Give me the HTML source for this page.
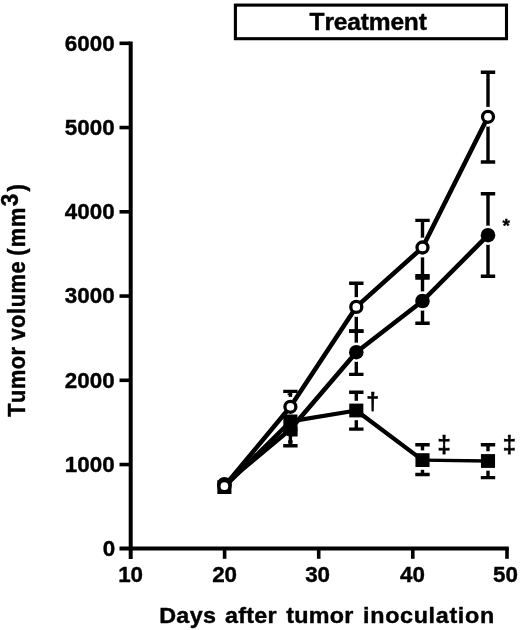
<!DOCTYPE html>
<html lang="en"><head><meta charset="utf-8"><title>Tumor volume</title>
<style>html,body{margin:0;padding:0;background:#fff}body{width:520px;height:630px;overflow:hidden}svg{display:block;filter:blur(0.35px)}text{font-family:"Liberation Sans",Arial,Helvetica,sans-serif;font-weight:bold;fill:#000;stroke:#000;stroke-width:0.4px;stroke-linejoin:round;font-kerning:none}</style>
</head><body>
<svg width="520" height="630" viewBox="0 0 520 630">
<rect width="520" height="630" fill="#fff"/>
<rect x="235.4" y="5.1" width="271.1" height="33.6" fill="#fff" stroke="#000" stroke-width="3.1"/>
<text transform="translate(309.57 29.7) scale(1.045 1)" font-size="23.5" letter-spacing="-0.16">Treatment</text>
<g stroke="#000" stroke-width="4" fill="none">
<path d="M130.7 41.5V559"/>
<path d="M119.5 548.5H508.8"/>
</g>
<g stroke="#000" stroke-width="3.6" fill="none">
<path d="M119.5 464.55H130"/>
<path d="M119.5 380.3H130"/>
<path d="M119.5 296.05H130"/>
<path d="M119.5 211.8H130"/>
<path d="M119.5 127.55H130"/>
<path d="M119.5 43.3H130"/>
<path d="M224.6 548V558.8"/>
<path d="M318.7 548V558.8"/>
<path d="M412.8 548V558.8"/>
<path d="M507 548V558.8"/>
</g>
<g font-size="22.4" text-anchor="end">
<text x="115.3" y="556.2">0</text>
<text x="114.6" y="471.9">1000</text>
<text x="114.6" y="387.7">2000</text>
<text x="114.6" y="303.4">3000</text>
<text x="114.6" y="219.2">4000</text>
<text x="114.6" y="134.9">5000</text>
<text x="114.6" y="50.7">6000</text>
</g>
<g font-size="22.4" text-anchor="middle">
<text x="130.6" y="581.8">10</text>
<text x="224.6" y="581.8">20</text>
<text x="317.6" y="581.8">30</text>
<text x="412.4" y="581.8">40</text>
<text x="505.5" y="581.8">50</text>
</g>
<text transform="scale(1.07 1)" y="622.7" font-size="21.8"><tspan x="148.73" letter-spacing="0.328">Days</tspan> <tspan x="210.3" letter-spacing="0.228">after</tspan> <tspan x="267.49" letter-spacing="0.247">tumor</tspan> <tspan x="339.32" letter-spacing="0.63">inoculation</tspan></text>
<text transform="translate(24.8 416.8) rotate(-90) scale(1 1.07)" font-size="21.8"><tspan x="0.06" y="0" letter-spacing="0.515">Tumor</tspan> <tspan x="76.21" y="0" letter-spacing="0.582">volume</tspan> <tspan x="161" y="0">(</tspan><tspan x="169.5" y="0" letter-spacing="0.9">mm</tspan><tspan x="210.5" y="-6" font-size="22.6">3</tspan><tspan x="225.4" y="0">)</tspan></text>
<g stroke="#000" stroke-width="3.4" fill="none">
<path d="M290.4 391.4V406M283.2 391.4H297.6M283.2 406H297.6"/>
<path d="M287.6 394.3H292.3" stroke-width="1.6"/>
<path d="M356.3 283.3V331M349.1 283.3H363.5M349.1 331H363.5"/>
<path d="M422.5 220.4V275.6M415.3 220.4H429.7M415.3 275.6H429.7"/>
<path d="M488.0 72.3V162M480.8 72.3H495.2M480.8 162H495.2"/>
<path d="M356.3 331.3V374.4M349.1 331.3H363.5M349.1 374.4H363.5"/>
<path d="M422.5 278V323.3M415.3 278H429.7M415.3 323.3H429.7"/>
<path d="M488.0 193.8V276.3M480.8 193.8H495.2M480.8 276.3H495.2"/>
<path d="M290.4 432V445.8M283.2 432H297.6M283.2 445.8H297.6"/>
<path d="M288.2 441.9H292.6"/>
<path d="M356.3 392.2V429.1M349.1 392.2H363.5M349.1 429.1H363.5"/>
<path d="M422.5 444.8V474.5M415.3 444.8H429.7M415.3 474.5H429.7"/>
<path d="M488.0 444.7V477.6M480.8 444.7H495.2M480.8 477.6H495.2"/>
</g>
<circle cx="356.3" cy="352.2" r="9.8" fill="#fff"/>
<circle cx="422.5" cy="301.0" r="9.8" fill="#fff"/>
<circle cx="488.0" cy="235.2" r="9.8" fill="#fff"/>
<circle cx="290.4" cy="406.8" r="10" fill="#fff"/>
<circle cx="356.3" cy="306.9" r="10" fill="#fff"/>
<circle cx="422.5" cy="247.5" r="10" fill="#fff"/>
<circle cx="488.0" cy="116.8" r="10" fill="#fff"/>
<rect x="348.3" y="400.8" width="16" height="19.4" fill="#fff"/>
<rect x="414.5" y="450.4" width="16" height="19.4" fill="#fff"/>
<rect x="480.0" y="451.3" width="16" height="19.4" fill="#fff"/>
<path d="M290 434.9H297.6" stroke="#000" stroke-width="3.2" fill="none"/>
<g stroke="#000" stroke-width="4.6" fill="none" stroke-linejoin="round">
<polyline points="224.4,487.1 290.4,421.4 356.3,410.5 422.5,460.1" stroke-width="4.3"/>
<polyline points="422.5,460.1 488.0,461.0" stroke-width="3.3"/>
<polyline points="224.4,484.2 290.4,429.3 356.3,352.2 422.5,301.0 488.0,235.2"/>
<polyline points="224.4,486.2 290.4,406.8 356.3,306.9 422.5,247.5 488.0,116.8"/>
</g>
<rect x="217.35" y="480.2" width="14.1" height="13.8" fill="#000"/>
<rect x="283.35" y="414.5" width="14.1" height="13.8" fill="#000"/>
<rect x="349.25" y="403.6" width="14.1" height="13.8" fill="#000"/>
<rect x="415.45" y="453.2" width="14.1" height="13.8" fill="#000"/>
<rect x="480.95" y="454.1" width="14.1" height="13.8" fill="#000"/>
<circle cx="224.4" cy="484.2" r="7.3" fill="#000"/>
<circle cx="290.4" cy="429.3" r="7.3" fill="#000"/>
<circle cx="356.3" cy="352.2" r="7.3" fill="#000"/>
<circle cx="422.5" cy="301.0" r="7.3" fill="#000"/>
<circle cx="488.0" cy="235.2" r="7.3" fill="#000"/>
<circle cx="224.4" cy="486.2" r="5.5" fill="#fff" stroke="#000" stroke-width="3.3"/>
<circle cx="290.4" cy="406.8" r="5.5" fill="#fff" stroke="#000" stroke-width="3.3"/>
<circle cx="356.3" cy="306.9" r="5.5" fill="#fff" stroke="#000" stroke-width="3.3"/>
<circle cx="422.5" cy="247.5" r="5.5" fill="#fff" stroke="#000" stroke-width="3.3"/>
<circle cx="488.0" cy="116.8" r="5.5" fill="#fff" stroke="#000" stroke-width="3.3"/>
<text x="506.2" y="232" font-size="19" stroke-width="0.2" text-anchor="middle">*</text>
<text x="372.8" y="409.5" font-size="23.3" stroke-width="1.2" text-anchor="middle">†</text>
<text x="444.2" y="452.6" font-size="24.6" stroke-width="1.2" text-anchor="middle">‡</text>
<text x="509.4" y="452.5" font-size="24.6" stroke-width="1.2" text-anchor="middle">‡</text>
</svg>
</body></html>
